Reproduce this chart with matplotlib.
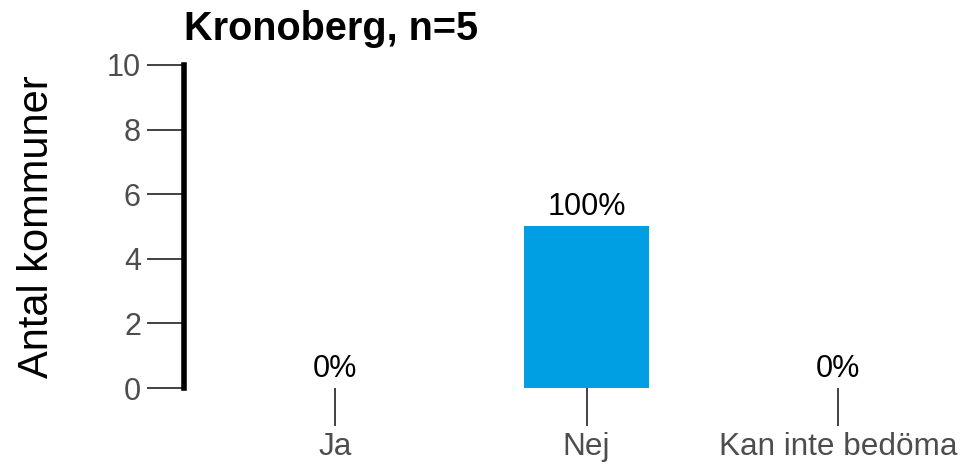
import matplotlib
matplotlib.use("Agg")
import matplotlib.pyplot as plt

categories = ["Ja", "Nej", "Kan inte bedöma"]
counts = [0, 5, 0]
pct_labels = ["0%", "100%", "0%"]
title = "Kronoberg, n=5"
ylabel = "Antal kommuner"
yticks = [0, 2, 4, 6, 8, 10]

plt.rcParams["font.family"] = ["Liberation Sans", "DejaVu Sans"]

fig = plt.figure(figsize=(9.68, 4.65), dpi=100)
ax = fig.add_axes([184 / 968, 77 / 465, 780 / 968, 323 / 465])

x = list(range(len(categories)))
ax.bar(x, counts, width=0.5, color="#009FE3")

for xi, v, lab in zip(x, counts, pct_labels):
    ax.annotate(lab, (xi, v), xytext=(0, 3), textcoords="offset points",
                ha="center", va="bottom", fontsize=22, color="black")

ax.set_xlim(-0.6, 2.5)
ax.set_ylim(0, 10)
ax.set_yticks(yticks)
ax.set_xticks(x)
ax.set_xticklabels(categories)

for s in ["top", "right", "bottom"]:
    ax.spines[s].set_visible(False)
ax.spines["left"].set_linewidth(4)
ax.spines["left"].set_color("black")

ax.tick_params(axis="both", direction="out", length=27, width=1.3,
               color="#333333", labelcolor="#4d4d4d")
ax.tick_params(axis="x", pad=5, labelsize=22.7)
ax.tick_params(axis="y", pad=4, labelsize=22)

ax.set_ylabel(ylabel, fontsize=30, color="black", labelpad=36)
ax.set_title(title, loc="left", fontsize=28.5, fontweight="bold", pad=18)

fig.savefig("out.png", dpi=100)
